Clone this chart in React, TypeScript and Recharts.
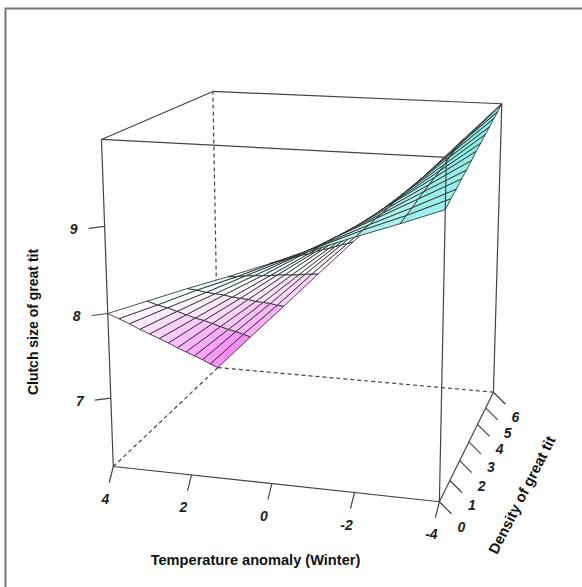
import React from 'react';
import { ScatterChart, Scatter, XAxis, YAxis } from 'recharts';

const temperatures = [4, 3, 2, 1, 0, -1, -2, -3, -4];
const densities = [0, 0.5, 1, 1.5, 2, 2.5, 3, 3.5, 4, 4.5, 5, 5.5, 6];
const clutchByTemperature = [
  [8.0, 7.85, 7.7, 7.54, 7.39, 7.24, 7.09, 6.93, 6.78, 6.63, 6.48, 6.32, 6.17],
  [8.18, 8.05, 7.93, 7.8, 7.67, 7.54, 7.42, 7.29, 7.16, 7.03, 6.91, 6.78, 6.65],
  [8.36, 8.26, 8.15, 8.05, 7.95, 7.84, 7.74, 7.64, 7.53, 7.43, 7.33, 7.22, 7.12],
  [8.53, 8.45, 8.38, 8.3, 8.22, 8.14, 8.07, 7.99, 7.91, 7.83, 7.76, 7.68, 7.6],
  [8.71, 8.66, 8.6, 8.55, 8.5, 8.44, 8.39, 8.34, 8.28, 8.23, 8.18, 8.12, 8.07],
  [8.89, 8.86, 8.83, 8.81, 8.78, 8.75, 8.72, 8.69, 8.66, 8.64, 8.61, 8.58, 8.55],
  [9.07, 9.07, 9.06, 9.06, 9.05, 9.05, 9.05, 9.04, 9.04, 9.03, 9.03, 9.02, 9.02],
  [9.24, 9.26, 9.28, 9.31, 9.33, 9.35, 9.37, 9.39, 9.41, 9.44, 9.46, 9.48, 9.5],
  [9.42, 9.47, 9.51, 9.56, 9.6, 9.65, 9.7, 9.74, 9.79, 9.83, 9.88, 9.92, 9.97],
];
const temperatureTicks = [4, 2, 0, -2, -4];
const densityTicks = [0, 1, 2, 3, 4, 5, 6];
const clutchTicks = [7, 8, 9];

const W = 582;
const H = 587;
const T_RANGE = [4, -4];
const D_RANGE = [0, 6];
const Z_RANGE = [6.17, 9.97];

// The box of the perspective view as it appears on the page: unit-cube corner -> page position.
const BOX: [number, number, number, number, number][] = [
  [0, 0, 0, 113, 466],
  [1, 0, 0, 440, 502],
  [0, 1, 0, 218, 368],
  [1, 1, 0, 493, 392],
  [0, 0, 1, 101.5, 140],
  [1, 0, 1, 446, 157],
  [0, 1, 1, 213, 91],
  [1, 1, 1, 502, 104],
];

function solve(A: number[][], b: number[]): number[] {
  const n = b.length;
  const M = A.map((r, i) => [...r, b[i]]);
  for (let c = 0; c < n; c++) {
    let p = c;
    for (let r = c + 1; r < n; r++) if (Math.abs(M[r][c]) > Math.abs(M[p][c])) p = r;
    [M[c], M[p]] = [M[p], M[c]];
    for (let r = 0; r < n; r++) {
      if (r === c) continue;
      const f = M[r][c] / M[c][c];
      for (let k = c; k <= n; k++) M[r][k] -= f * M[c][k];
    }
  }
  return M.map((r, i) => r[n] / r[i]);
}

function fitCamera(): number[] {
  const rows: number[][] = [];
  const rhs: number[] = [];
  for (const [u, v, w, x, y] of BOX) {
    rows.push([u, v, w, 1, 0, 0, 0, 0, -x * u, -x * v, -x * w]);
    rhs.push(x);
    rows.push([0, 0, 0, 0, u, v, w, 1, -y * u, -y * v, -y * w]);
    rhs.push(y);
  }
  const ATA = Array.from({ length: 11 }, (_, i) =>
    Array.from({ length: 11 }, (_, j) => rows.reduce((s, r) => s + r[i] * r[j], 0)),
  );
  const ATb = Array.from({ length: 11 }, (_, i) => rows.reduce((s, r, k) => s + r[i] * rhs[k], 0));
  return solve(ATA, ATb);
}
const CAM = fitCamera();

function project(t: number, d: number, z: number) {
  const u = (t - T_RANGE[0]) / (T_RANGE[1] - T_RANGE[0]);
  const v = (d - D_RANGE[0]) / (D_RANGE[1] - D_RANGE[0]);
  const w = (z - Z_RANGE[0]) / (Z_RANGE[1] - Z_RANGE[0]);
  const q = CAM[8] * u + CAM[9] * v + CAM[10] * w + 1;
  return {
    x: (CAM[0] * u + CAM[1] * v + CAM[2] * w + CAM[3]) / q,
    y: (CAM[4] * u + CAM[5] * v + CAM[6] * w + CAM[7]) / q,
  };
}

function facetColour(z: number): string {
  const mid = (Z_RANGE[0] + Z_RANGE[1]) / 2;
  const half = (Z_RANGE[1] - Z_RANGE[0]) / 2;
  const a = Math.min(1, Math.abs(z - mid) / half);
  const low = [244, 120, 244];
  const high = [112, 232, 226];
  const end = z < mid ? low : high;
  const c = end.map((e) => Math.round(255 + (e - 255) * a));
  return `rgb(${c[0]},${c[1]},${c[2]})`;
}

const noDot = () => <g />;

const TMIN = T_RANGE[0];
const TMAX = T_RANGE[1];
const DMIN = D_RANGE[0];
const DMAX = D_RANGE[1];
const ZMIN = Z_RANGE[0];
const ZMAX = Z_RANGE[1];

const backEdges = [
  [project(TMIN, DMIN, ZMIN), project(TMIN, DMAX, ZMIN)],
  [project(TMIN, DMAX, ZMIN), project(TMAX, DMAX, ZMIN)],
  [project(TMIN, DMAX, ZMIN), project(TMIN, DMAX, ZMAX)],
];
const frontEdges = [
  [project(TMIN, DMIN, ZMIN), project(TMAX, DMIN, ZMIN)],
  [project(TMAX, DMIN, ZMIN), project(TMAX, DMAX, ZMIN)],
  [project(TMAX, DMAX, ZMIN), project(TMAX, DMAX, ZMAX)],
  [project(TMIN, DMIN, ZMIN), project(TMIN, DMIN, ZMAX)],
  [project(TMAX, DMIN, ZMIN), project(TMAX, DMIN, ZMAX)],
  [project(TMIN, DMIN, ZMAX), project(TMAX, DMIN, ZMAX)],
  [project(TMIN, DMIN, ZMAX), project(TMIN, DMAX, ZMAX)],
  [project(TMIN, DMAX, ZMAX), project(TMAX, DMAX, ZMAX)],
  [project(TMAX, DMIN, ZMAX), project(TMAX, DMAX, ZMAX)],
];

type Facet = { pts: { x: number; y: number }[]; fill: string };
const facets: Facet[] = [];
for (let j = densities.length - 2; j >= 0; j--) {
  for (let i = 0; i < temperatures.length - 1; i++) {
    const a = project(temperatures[i], densities[j], clutchByTemperature[i][j]);
    const b = project(temperatures[i + 1], densities[j], clutchByTemperature[i + 1][j]);
    const c = project(temperatures[i + 1], densities[j + 1], clutchByTemperature[i + 1][j + 1]);
    const e = project(temperatures[i], densities[j + 1], clutchByTemperature[i][j + 1]);
    const mean =
      (clutchByTemperature[i][j] +
        clutchByTemperature[i + 1][j] +
        clutchByTemperature[i + 1][j + 1] +
        clutchByTemperature[i][j + 1]) /
      4;
    facets.push({ pts: [a, b, c, e, a], fill: facetColour(mean) });
  }
}

const shift = (p: { x: number; y: number }, dx: number, dy: number) => ({ x: p.x + dx, y: p.y + dy });

const tickLines: { x: number; y: number }[][] = [
  ...temperatureTicks.map((t) => {
    const p = project(t, DMIN, ZMIN);
    return [p, shift(p, -4, 16)];
  }),
  ...densityTicks.map((d) => {
    const p = project(TMAX, d, ZMIN);
    return [p, shift(p, 12, 12)];
  }),
  ...clutchTicks.map((z) => {
    const p = project(TMIN, DMIN, z);
    return [p, shift(p, -16, 2)];
  }),
];

type Label = { x: number; y: number; text: string };
const tickLabels: Label[] = [
  ...temperatureTicks.map((t) => ({ ...shift(project(t, DMIN, ZMIN), -8, 32), text: String(t) })),
  ...densityTicks.map((d) => ({ ...shift(project(TMAX, d, ZMIN), 22, 25), text: String(d) })),
  ...clutchTicks.map((z) => ({ ...shift(project(TMIN, DMIN, z), -31, 3), text: String(z) })),
];

const FONT = '"Liberation Sans", Arial, sans-serif';

const tickText = (props: any) => (
  <text
    x={props.cx}
    y={props.cy}
    textAnchor="middle"
    dominantBaseline="central"
    fontFamily={FONT}
    fontSize={14}
    fontWeight="bold"
    fontStyle="italic"
    fill="#222"
  >
    {props.payload.text}
  </text>
);

const titleText = (props: any) => (
  <text
    x={props.cx}
    y={props.cy}
    textAnchor="middle"
    dominantBaseline="central"
    fontFamily={FONT}
    fontSize={props.payload.size}
    fontWeight="bold"
    fill="#111"
    transform={props.payload.angle ? `rotate(${props.payload.angle} ${props.cx} ${props.cy})` : undefined}
  >
    {props.payload.text}
  </text>
);

const axisTitles = [
  { x: 255.5, y: 560, text: 'Temperature anomaly (Winter)', angle: 0, size: 14.6 },
  { x: 33, y: 322, text: 'Clutch size of great tit', angle: -90, size: 14 },
  { x: 522, y: 495, text: 'Density of great tit', angle: -63, size: 14.8 },
];

const frame = [
  { x: 582, y: 8.5 },
  { x: 5.5, y: 8.5 },
  { x: 5.5, y: 587 },
];

const solid = { stroke: '#444', strokeWidth: 1.2, fill: 'none' };
const dashed = { stroke: '#444', strokeWidth: 1.2, fill: 'none', strokeDasharray: '4 3' };

export default function App() {
  return (
    <div style={{ position: 'absolute', left: 0, top: 0, width: W, height: H, background: '#fff' }}>
      <ScatterChart width={W} height={H} margin={{ top: 0, right: 0, bottom: 0, left: 0 }}>
        <XAxis type="number" dataKey="x" domain={[0, W]} hide allowDataOverflow />
        <YAxis type="number" dataKey="y" domain={[0, H]} reversed hide allowDataOverflow />
        <Scatter
          data={frame}
          line={{ stroke: '#777', strokeWidth: 2, fill: 'none' }}
          shape={noDot}
          isAnimationActive={false}
        />
        {backEdges.map((e, i) => (
          <Scatter key={`b${i}`} data={e} line={dashed} shape={noDot} isAnimationActive={false} />
        ))}
        {facets.map((f, i) => (
          <Scatter
            key={`f${i}`}
            data={f.pts}
            line={{ fill: f.fill, stroke: '#222', strokeWidth: 0.8 }}
            shape={noDot}
            isAnimationActive={false}
          />
        ))}
        {frontEdges.map((e, i) => (
          <Scatter key={`e${i}`} data={e} line={solid} shape={noDot} isAnimationActive={false} />
        ))}
        {tickLines.map((e, i) => (
          <Scatter key={`t${i}`} data={e} line={solid} shape={noDot} isAnimationActive={false} />
        ))}
        <Scatter data={tickLabels} shape={tickText} isAnimationActive={false} />
        <Scatter data={axisTitles} shape={titleText} isAnimationActive={false} />
      </ScatterChart>
    </div>
  );
}
